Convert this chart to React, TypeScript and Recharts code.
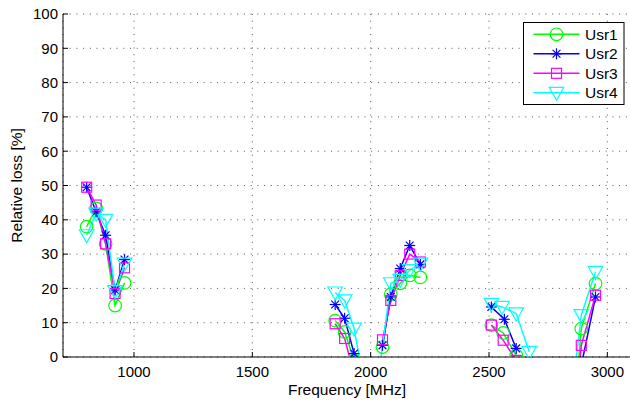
import React from 'react';
import { LineChart, Line, XAxis, YAxis, CartesianGrid } from 'recharts';

// ---- data ----
const freqTicks = [1000, 1500, 2000, 2500, 3000];
const lossTicks = [0, 10, 20, 30, 40, 50, 60, 70, 80, 90, 100];

// null loss entries break the line between frequency bands
const usr1Freq = [800, 840, 880, 920, 960, 1400, 1850, 1890, 1930, 2000, 2050, 2085, 2125, 2165, 2210, 2400, 2510, 2560, 2615, 2800, 2850, 2890, 2950];
const usr1Loss = [38, 43.3, 33, 15, 21.6, null, 10.6, 7.3, -1, null, 2.9, 18.3, 21.5, 23.8, 23.2, null, 9.3, 7.0, 0.5, null, -25, 8.3, 21.4];

const usr2Freq = [800, 840, 880, 920, 960, 1400, 1850, 1890, 1930, 2000, 2050, 2085, 2125, 2165, 2210, 2400, 2510, 2565, 2615, 2800, 2890, 2950];
const usr2Loss = [49.5, 42.3, 35.5, 19.5, 28.4, null, 15.3, 11.3, 1, null, 3.4, 17.5, 25.8, 32.5, 27, null, 14.6, 11, 2.5, null, -2.5, 17.5];

const usr3Freq = [800, 840, 880, 920, 960, 1400, 1850, 1890, 1930, 2000, 2050, 2085, 2125, 2165, 2210, 2400, 2510, 2560, 2615, 2800, 2850, 2890, 2950];
const usr3Loss = [49.5, 44.3, 33, 18.5, 26, null, 9.7, 5.4, -5, null, 5, 16.5, 23.8, 30, 27.7, null, 9.3, 4.9, -1, null, -27, 3.4, 18];

const usr4Freq = [800, 840, 880, 920, 960, 1400, 1850, 1890, 1930, 1970, 2000, 2040, 2085, 2125, 2165, 2210, 2400, 2510, 2555, 2615, 2670, 2800, 2850, 2890, 2950];
const usr4Loss = [35.5, 41.8, 40, 19.2, 27.2, null, 18.8, 16.5, 8.3, -7, null, -2, 21.5, 22.5, 25.3, 27.2, null, 15.5, 14.6, 12.7, 1.5, null, -11, 12.2, 24.8];

const seriesNames = ['Usr1', 'Usr2', 'Usr3', 'Usr4'];
const seriesColors = ['#00ff00', '#0000ff', '#ff00ff', '#00ffff'];

const toRows = (f: number[], v: (number | null)[]) => f.map((x, i) => ({ f: x, v: v[i] }));
const seriesData = [
  toRows(usr1Freq, usr1Loss),
  toRows(usr2Freq, usr2Loss),
  toRows(usr3Freq, usr3Loss),
  toRows(usr4Freq, usr4Loss),
];

const FONT = '"Liberation Sans", Arial, Helvetica, sans-serif';

// ---- markers ----
function Marker({ kind, cx, cy, color }: { kind: number; cx: number; cy: number; color: string }) {
  const sw = 1.2;
  if (kind === 0) {
    return <circle cx={cx} cy={cy} r={6.3} fill="none" stroke={color} strokeWidth={sw} />;
  }
  if (kind === 1) {
    const a = 5.5;
    const d = 3.9;
    return (
      <g stroke={color} strokeWidth={sw}>
        <line x1={cx - a} y1={cy} x2={cx + a} y2={cy} />
        <line x1={cx} y1={cy - a} x2={cx} y2={cy + a} />
        <line x1={cx - d} y1={cy - d} x2={cx + d} y2={cy + d} />
        <line x1={cx - d} y1={cy + d} x2={cx + d} y2={cy - d} />
      </g>
    );
  }
  if (kind === 2) {
    return <rect x={cx - 5} y={cy - 5} width={10} height={10} fill="none" stroke={color} strokeWidth={sw} />;
  }
  return (
    <polygon
      points={`${cx - 7.3},${cy - 5.5} ${cx + 7.3},${cy - 5.5} ${cx},${cy + 7.5}`}
      fill="none"
      stroke={color}
      strokeWidth={sw}
    />
  );
}

const makeDot = (kind: number, color: string) => (props: any) => {
  const { cx, cy, payload, index } = props;
  if (cx == null || cy == null || payload == null || payload.v == null || isNaN(cy)) {
    return <g key={`d-${kind}-${index}`} />;
  }
  return (
    <g key={`d-${kind}-${index}`}>
      <Marker kind={kind} cx={cx} cy={cy} color={color} />
    </g>
  );
};

export default function App() {
  return (
    <div
      style={{
        position: 'absolute',
        left: 0,
        top: 0,
        width: 630,
        height: 401,
        overflow: 'hidden',
        background: '#fff',
      }}
    >
      <LineChart width={640} height={401} margin={{ top: 14, right: 9, bottom: 0, left: 0 }}>
        <CartesianGrid stroke="#555" strokeDasharray="1 5.7" />
        <XAxis
          type="number"
          dataKey="f"
          domain={[700, 3100]}
          ticks={freqTicks}
          allowDataOverflow
          height={44}
          tickSize={-5}
          tickMargin={14}
          axisLine={{ stroke: '#000', strokeWidth: 1 }}
          tickLine={{ stroke: '#000' }}
          tick={{ fill: '#000', fontSize: 15, fontFamily: FONT }}
        />
        <YAxis
          type="number"
          domain={[0, 100]}
          ticks={lossTicks}
          allowDataOverflow
          width={63}
          tickSize={-5}
          tickMargin={10}
          axisLine={{ stroke: '#000', strokeWidth: 1 }}
          tickLine={{ stroke: '#000' }}
          tick={{ fill: '#000', fontSize: 15, fontFamily: FONT }}
        />
        {seriesData.map((d, i) => (
          <Line
            key={seriesNames[i]}
            data={d}
            dataKey="v"
            name={seriesNames[i]}
            type="linear"
            stroke={seriesColors[i]}
            strokeWidth={1.5}
            dot={makeDot(i, seriesColors[i])}
            activeDot={false}
            connectNulls={false}
            isAnimationActive={false}
          />
        ))}
      </LineChart>
      <svg
        width={630}
        height={401}
        style={{ position: 'absolute', left: 0, top: 0, pointerEvents: 'none' }}
      >
        <text
          x={347}
          y={395}
          textAnchor="middle"
          fontSize={15.5}
          fontFamily={FONT}
          fill="#000"
        >
          Frequency [MHz]
        </text>
        <text
          x={0}
          y={0}
          transform="translate(22,185.5) rotate(-90)"
          textAnchor="middle"
          fontSize={15.5}
          fontFamily={FONT}
          fill="#000"
        >
          Relative loss [%]
        </text>
        <rect x={523.5} y={22.5} width={100.5} height={82} fill="#fff" stroke="#000" strokeWidth={1} />
        {seriesNames.map((n, i) => {
          const y = 34.3 + i * 19.5;
          return (
            <g key={n}>
              <line x1={533.5} y1={y} x2={579.5} y2={y} stroke={seriesColors[i]} strokeWidth={1.5} />
              <Marker kind={i} cx={556.5} cy={y} color={seriesColors[i]} />
              <text x={585} y={y + 5.4} fontSize={15.5} fontFamily={FONT} fill="#000">
                {n}
              </text>
            </g>
          );
        })}
      </svg>
    </div>
  );
}
